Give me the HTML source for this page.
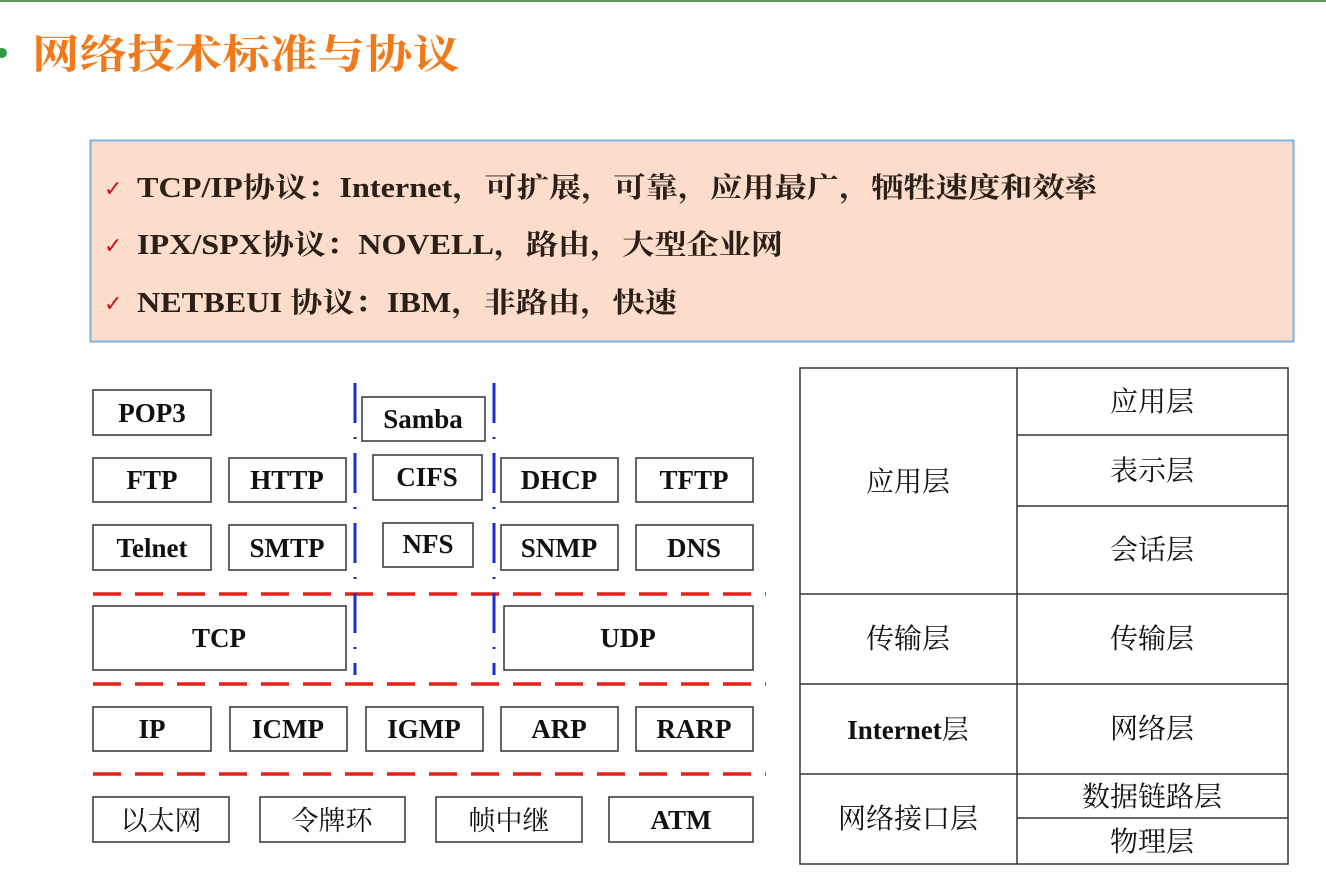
<!DOCTYPE html>
<html><head><meta charset="utf-8"><style>
html,body{margin:0;padding:0;background:#fdfdfd;}
svg{display:block;}
.b{font-family:"Liberation Serif","Noto Serif CJK SC",serif;font-weight:bold;fill:#111;}
.s{font-family:"Liberation Sans","Noto Sans CJK SC",sans-serif;fill:#111;}
</style></head><body>
<svg width="1326" height="886" viewBox="0 0 1326 886" xmlns="http://www.w3.org/2000/svg">
<rect x="0" y="0" width="1326" height="886" fill="#fdfdfd"/>
<rect x="0" y="0" width="1326" height="2" fill="#5a9a5a"/>
<circle cx="2" cy="53" r="5" fill="#2e9a4a"/>
<text x="32" y="68" font-family="'Noto Serif CJK SC',serif" font-weight="bold" font-size="40" fill="#f07a1a" textLength="428" lengthAdjust="spacingAndGlyphs">网络技术标准与协议</text>

<rect x="90.5" y="140.5" width="1203" height="201" fill="#fcdccb" stroke="#7fb3d9" stroke-width="2"/>
<g font-size="22" fill="#d0101a" font-family="DejaVu Sans,sans-serif"><text x="104" y="196">✓</text><text x="104" y="253">✓</text><text x="104" y="311">✓</text></g>
<g font-family="'Liberation Serif','Noto Serif CJK SC',serif" font-weight="bold" font-size="28" fill="#2a2018">
<text x="137" y="197" textLength="960" lengthAdjust="spacingAndGlyphs">TCP/IP协议：Internet，可扩展，可靠，应用最广，牺牲速度和效率</text>
<text x="137" y="254" textLength="646" lengthAdjust="spacingAndGlyphs">IPX/SPX协议：NOVELL，路由，大型企业网</text>
<text x="137" y="312" textLength="540" lengthAdjust="spacingAndGlyphs">NETBEUI 协议：IBM，非路由，快速</text>
</g>

<g fill="#fff" stroke="#333" stroke-width="1.5">
<rect x="93" y="390" width="118" height="45"/>
<rect x="93" y="458" width="118" height="44"/><rect x="229" y="458" width="117" height="44"/>
<rect x="93" y="525" width="118" height="45"/><rect x="229" y="525" width="117" height="45"/>
<rect x="362" y="397" width="123" height="44"/>
<rect x="373" y="455" width="109" height="45"/>
<rect x="383" y="523" width="90" height="44"/>
<rect x="501" y="458" width="117" height="44"/><rect x="636" y="458" width="117" height="44"/>
<rect x="501" y="525" width="117" height="45"/><rect x="636" y="525" width="117" height="45"/>
<rect x="93" y="606" width="253" height="64"/><rect x="504" y="606" width="249" height="64"/>
<rect x="93" y="707" width="118" height="44"/><rect x="230" y="707" width="117" height="44"/><rect x="366" y="707" width="117" height="44"/><rect x="501" y="707" width="117" height="44"/><rect x="636" y="707" width="117" height="44"/>
<rect x="93" y="797" width="136" height="45"/><rect x="260" y="797" width="145" height="45"/><rect x="436" y="797" width="146" height="45"/><rect x="609" y="797" width="144" height="45"/>
</g>
<g class="b" font-size="27" text-anchor="middle">
<text x="152" y="422">POP3</text>
<text x="152" y="489">FTP</text><text x="287" y="489">HTTP</text>
<text x="152" y="557">Telnet</text><text x="287" y="557">SMTP</text>
<text x="423" y="428">Samba</text>
<text x="427" y="486">CIFS</text>
<text x="428" y="553">NFS</text>
<text x="559" y="489">DHCP</text><text x="694" y="489">TFTP</text>
<text x="559" y="557">SNMP</text><text x="694" y="557">DNS</text>
<text x="219" y="647">TCP</text><text x="628" y="647">UDP</text>
<text x="152" y="738">IP</text><text x="288" y="738">ICMP</text><text x="424" y="738">IGMP</text><text x="559" y="738">ARP</text><text x="694" y="738">RARP</text>
</g>
<g font-family="'Noto Serif CJK SC',serif" font-size="27" fill="#111" text-anchor="middle">
<text x="161" y="830">以太网</text><text x="332" y="830">令牌环</text><text x="509" y="830">帧中继</text>
</g>
<text class="b" x="681" y="829" font-size="27" text-anchor="middle">ATM</text>

<g stroke="#e8201a" stroke-width="3.5" stroke-dasharray="28 14" fill="none">
<line x1="93" y1="594" x2="766" y2="594"/>
<line x1="93" y1="684" x2="766" y2="684"/>
<line x1="93" y1="774" x2="766" y2="774"/>
</g>
<g stroke="#1a2fc8" stroke-width="3" stroke-dasharray="40 14 2 14" fill="none">
<line x1="355" y1="383" x2="355" y2="675"/>
<line x1="494" y1="383" x2="494" y2="675"/>
</g>

<g stroke="#333" stroke-width="1.5" fill="none">
<rect x="800" y="368" width="488" height="496" fill="#fff"/>
<line x1="1017" y1="368" x2="1017" y2="864"/>
<line x1="1017" y1="435" x2="1288" y2="435"/>
<line x1="1017" y1="506" x2="1288" y2="506"/>
<line x1="800" y1="594" x2="1288" y2="594"/>
<line x1="800" y1="684" x2="1288" y2="684"/>
<line x1="800" y1="774" x2="1288" y2="774"/>
<line x1="1017" y1="818" x2="1288" y2="818"/>
</g>
<g font-family="'Noto Serif CJK SC',serif" font-size="28" fill="#111" text-anchor="middle">
<text x="908" y="491">应用层</text>
<text x="1152" y="411">应用层</text>
<text x="1152" y="480">表示层</text>
<text x="1152" y="559">会话层</text>
<text x="908" y="648">传输层</text><text x="1152" y="648">传输层</text>
<text x="1152" y="738">网络层</text>
<text x="908" y="828">网络接口层</text>
<text x="1152" y="806">数据链路层</text>
<text x="1152" y="851">物理层</text>
</g>
<text class="b" x="908" y="739" font-size="27" text-anchor="middle">Internet<tspan font-family="'Noto Serif CJK SC',serif" font-weight="normal">层</tspan></text>
</svg>
</body></html>
